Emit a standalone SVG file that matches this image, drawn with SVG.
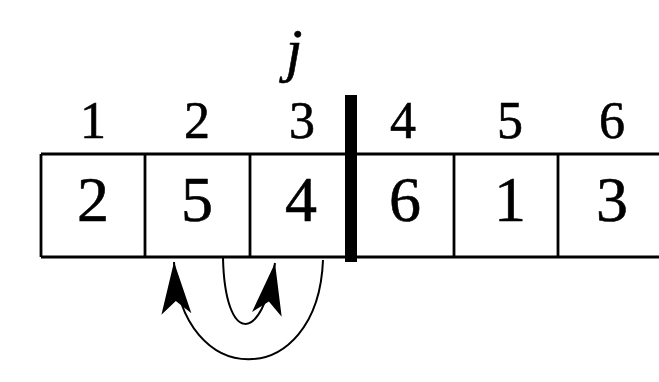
<svg xmlns="http://www.w3.org/2000/svg" width="659" height="382" viewBox="0 0 659 382">
<style>
.cell{fill:none;stroke:#000;stroke-width:2.8}
.idx{font-family:"Liberation Serif",serif;font-size:52px;text-anchor:middle;fill:#000;stroke:#000;stroke-width:0.6}
.val{font-family:"Liberation Serif",serif;font-size:64px;text-anchor:middle;fill:#000;stroke:#000;stroke-width:0.6}
.arc{fill:none;stroke:#000;stroke-width:2;marker-end:url(#barb)}
</style>
<defs>
<marker id="barb" markerUnits="userSpaceOnUse" orient="auto" markerWidth="60" markerHeight="40" refX="54" refY="20" viewBox="0 0 60 40" overflow="visible">
<path d="M54,20 L2,5 L15,20 L2,35 Z" fill="#000"/>
</marker>
</defs>
<rect width="659" height="382" fill="#fff"/>
<g id="array">
<line class="cell" x1="41" y1="154" x2="659" y2="154"/>
<line class="cell" x1="41" y1="257" x2="659" y2="257"/>
<line class="cell" x1="41" y1="154" x2="41" y2="257"/>
<line class="cell" x1="145" y1="154" x2="145" y2="257"/>
<line class="cell" x1="250" y1="154" x2="250" y2="257"/>
<line class="cell" x1="454" y1="154" x2="454" y2="257"/>
<line class="cell" x1="558" y1="154" x2="558" y2="257"/>
</g>
<g id="cell1"><text class="idx" x="93" y="138">1</text><text class="val" x="93" y="221">2</text></g>
<g id="cell2"><text class="idx" x="197" y="138">2</text><text class="val" x="197" y="221">5</text></g>
<g id="cell3"><text class="idx" x="302" y="138">3</text><text class="val" x="301" y="221">4</text></g>
<g id="cell4"><text class="idx" x="403" y="138">4</text><text class="val" x="405" y="221">6</text></g>
<g id="cell5"><text class="idx" x="510" y="138">5</text><text class="val" x="510" y="221">1</text></g>
<g id="cell6"><text class="idx" x="612" y="138">6</text><text class="val" x="612" y="221">3</text></g>
<g id="pointer-j"><text x="294" y="70" style="font-family:'Liberation Serif',serif;font-style:italic;font-size:60px;text-anchor:middle;stroke:#000;stroke-width:0.6">j</text></g>
<g id="divider"><rect x="345" y="95" width="12" height="167" fill="#000"/></g>
<g id="connectors">
<path class="arc" d="M323,260 C318,392 180,392 174,262"/>
<path class="arc" d="M223,258 C225,345 262,345 275,263"/>
</g>
</svg>
